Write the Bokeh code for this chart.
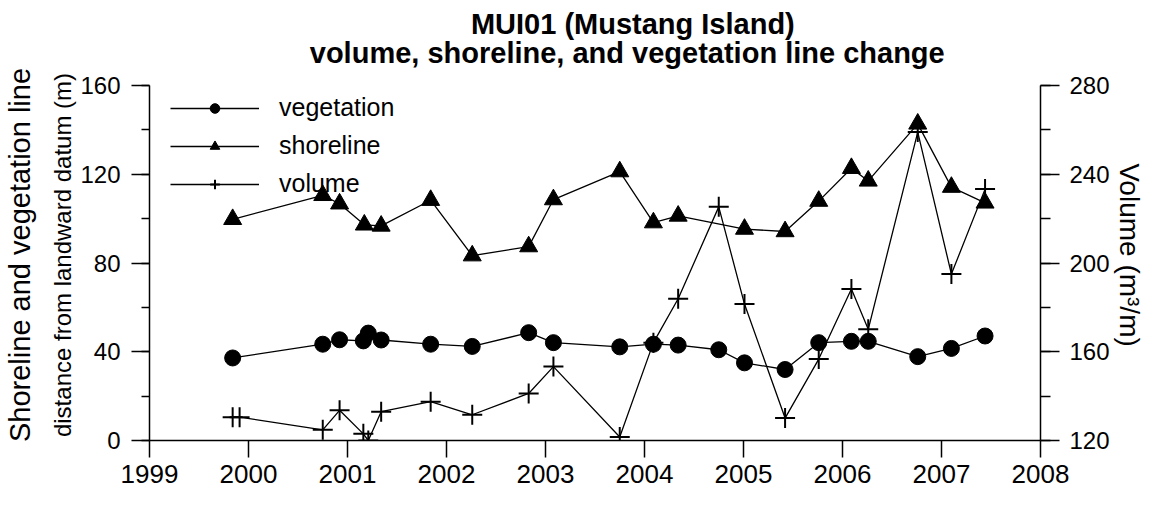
from bokeh.plotting import figure
from bokeh.models import (Range1d, LinearAxis, Legend, LegendItem, Title,
                          SingleIntervalTicker, FixedTicker)
from bokeh.embed import file_html
from bokeh.resources import INLINE

# ---------------- data ----------------
veg_dates = [1999.84, 2000.75, 2000.92, 2001.16, 2001.21, 2001.34, 2001.84, 2002.26,
             2002.83, 2003.08, 2003.75, 2004.09, 2004.34, 2004.75, 2005.01, 2005.42,
             2005.76, 2006.09, 2006.26, 2006.76, 2007.10, 2007.44]
veg_vals = [37.2, 43.4, 45.4, 44.9, 48.4, 45.3, 43.4, 42.4, 48.6, 44.1, 42.2, 43.4,
            43.0, 40.9, 35.0, 32.0, 44.1, 44.7, 44.7, 37.8, 41.5, 47.1]

shore_dates = [1999.84, 2000.75, 2000.92, 2001.17, 2001.34, 2001.84, 2002.26, 2002.83,
               2003.08, 2003.75, 2004.09, 2004.34, 2005.01, 2005.42, 2005.76, 2006.09,
               2006.26, 2006.76, 2007.10, 2007.44]
shore_vals = [99.7, 110.5, 106.7, 97.2, 96.7, 108.3, 83.3, 87.4, 108.6, 121.2, 98.2,
              101.2, 95.3, 94.2, 107.9, 122.7, 117.0, 142.7, 114.2, 107.1]

vol_dates = [1999.84, 1999.91, 2000.75, 2000.92, 2001.16, 2001.21, 2001.34, 2001.84,
             2002.26, 2002.83, 2003.08, 2003.75, 2004.09, 2004.34, 2004.75, 2005.01,
             2005.42, 2005.76, 2006.09, 2006.26, 2006.76, 2007.10, 2007.44]
vol_vals = [130.5, 130.5, 124.8, 133.6, 123.0, 120.0, 133.0, 137.5, 131.6, 141.2, 153.3,
            121.6, 164.1, 183.9, 225.3, 181.5, 130.1, 156.7, 188.3, 170.1, 259.0, 195.0,
            233.3]

x_start, x_end = 1999, 2008
left_start, left_end = 0, 160
right_start, right_end = 120, 280

title_line1 = "MUI01 (Mustang Island)"
title_line2 = "volume, shoreline, and vegetation line change"
left_label1 = "Shoreline and vegetation line"
left_label2 = "distance from landward datum (m)"
right_label = "Volume (m³/m)"
series_names = ["vegetation", "shoreline", "volume"]

FONT = "Liberation Sans"

# ---------------- layout constants (pixels) ----------------
W, H = 1147, 493
FRAME_LEFT, FRAME_RIGHT = 147, 1044
FRAME_TOP, FRAME_BOTTOM = 69, 440     # frame extends above the data area
DATA_TOP = 85                          # pixel row of the top of the axes
ext = (FRAME_BOTTOM - FRAME_TOP) / (FRAME_BOTTOM - DATA_TOP)
y_top = left_start + (left_end - left_start) * ext
vol_top = right_start + (right_end - right_start) * ext

p = figure(width=W, height=H, output_backend="svg", toolbar_location=None,
           x_range=Range1d(x_start, x_end), y_range=Range1d(left_start, y_top),
           min_border_left=FRAME_LEFT, min_border_right=W - FRAME_RIGHT,
           min_border_top=FRAME_TOP, min_border_bottom=H - FRAME_BOTTOM)
p.xgrid.visible = False
p.ygrid.visible = False
p.outline_line_color = None
p.background_fill_color = "white"
p.border_fill_color = "white"
p.title.visible = False

p.extra_y_ranges = {"vol": Range1d(right_start, vol_top)}


def style_axis(ax, tick_out, minor_out, font_size, standoff):
    ax.major_tick_out = tick_out
    ax.major_tick_in = 0
    ax.minor_tick_out = minor_out
    ax.minor_tick_in = 0
    ax.axis_line_width = 1.5
    ax.major_tick_line_width = 1.5
    ax.minor_tick_line_width = 1.5
    ax.axis_line_color = "black"
    ax.major_tick_line_color = "black"
    ax.minor_tick_line_color = "black"
    ax.major_label_text_font = FONT
    ax.major_label_text_font_size = font_size
    ax.major_label_text_color = "black"
    ax.major_label_standoff = standoff
    ax.axis_label_text_font = FONT
    ax.axis_label_text_font_style = "normal"
    ax.axis_label_text_color = "black"


# x axis
xa = p.xaxis[0]
xa.ticker = SingleIntervalTicker(interval=1, num_minor_ticks=0)
style_axis(xa, 17, 0, "26px", 7)

# left axis (ticks + second label line)
ya = p.yaxis[0]
ya.ticker = SingleIntervalTicker(interval=40, num_minor_ticks=2)
ya.bounds = (left_start, left_end)
style_axis(ya, 18, 8, "24px", 11)
ya.axis_label = left_label2
ya.axis_label_text_font_size = "24px"
ya.axis_label_standoff = 1

# outer left axis carrying only the main label line
ya2 = LinearAxis(ticker=FixedTicker(ticks=[]), axis_line_color=None,
                 major_tick_out=0, minor_tick_out=0, major_tick_in=0,
                 minor_tick_in=0, axis_label=left_label1,
                 axis_label_text_font=FONT, axis_label_text_font_size="29px",
                 axis_label_text_font_style="normal", axis_label_text_color="black",
                 axis_label_standoff=11)
p.add_layout(ya2, "left")

# right axis
ra = LinearAxis(y_range_name="vol",
                ticker=SingleIntervalTicker(interval=40, num_minor_ticks=2))
ra.bounds = (right_start, right_end)
style_axis(ra, 19, 10, "24px", 10)
ra.axis_label = right_label
ra.axis_label_text_font_size = "28px"
ra.axis_label_standoff = 1
p.add_layout(ra, "right")

# ---------------- title (two centred lines) ----------------
pad2 = "\u00a0" * 8
pad1 = "\u00a0" * 28
title = Title(text=pad1 + title_line1 + "\n" + pad2 + title_line2, align="center",
              vertical_align="bottom", standoff=0, text_font=FONT,
              text_font_size="29px", text_font_style="bold", text_color="black",
              text_line_height=0.93)
p.add_layout(title, "above")

# ---------------- series ----------------
veg_line = p.line(veg_dates, veg_vals, line_color="black", line_width=1.3)
veg_pts = p.scatter(veg_dates, veg_vals, marker="circle", size=16,
                    fill_color="black", line_color="black")

sh_line = p.line(shore_dates, shore_vals, line_color="black", line_width=1.3)
sh_pts = p.scatter(shore_dates, shore_vals, marker="triangle", size=18,
                   fill_color="black", line_color="black")

vol_line = p.line(vol_dates, vol_vals, line_color="black", line_width=1.3,
                  y_range_name="vol")
vol_pts = p.scatter(vol_dates, vol_vals, marker="cross", size=20, line_width=2,
                    line_color="black", y_range_name="vol")

legend = Legend(items=[
    LegendItem(label=series_names[0], renderers=[veg_line, veg_pts]),
    LegendItem(label=series_names[1], renderers=[sh_line, sh_pts]),
    LegendItem(label=series_names[2], renderers=[vol_line, vol_pts]),
], location=(21, 242), padding=0, margin=0, spacing=9, glyph_width=89,
    glyph_height=24, label_standoff=20, label_text_font=FONT,
    label_text_font_size="25px", label_text_color="black",
    border_line_color=None, background_fill_alpha=0)
p.add_layout(legend)

open("out.html", "w").write(file_html(p, INLINE))
